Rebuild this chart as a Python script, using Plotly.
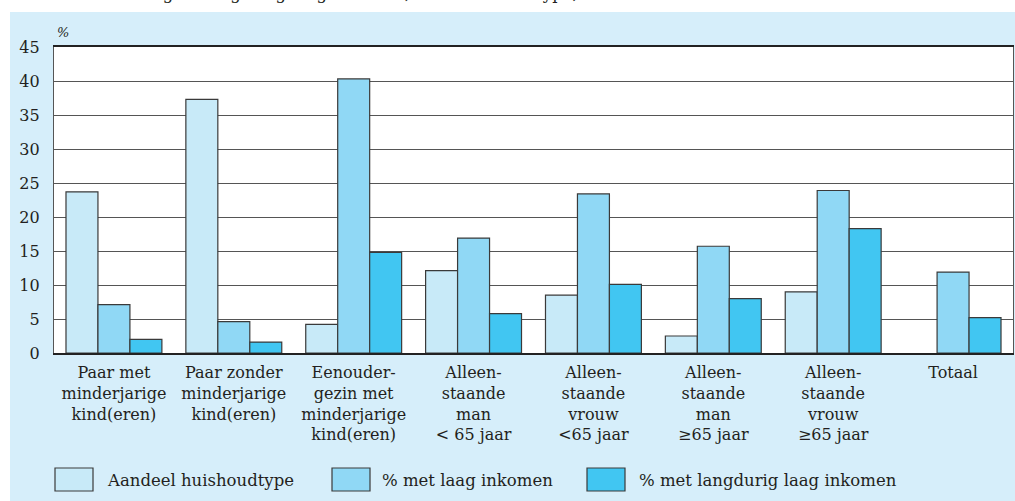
import plotly.graph_objects as go

categories = ["Paar met kind", "Paar zonder kind", "Eenouder", "Man <65", "Vrouw <65",
              "Man >=65", "Vrouw >=65", "Totaal"]
tick_labels = [
    "Paar met<br>minderjarige<br>kind(eren)",
    "Paar zonder<br>minderjarige<br>kind(eren)",
    "Eenouder-<br>gezin met<br>minderjarige<br>kind(eren)",
    "Alleen-<br>staande<br>man<br>&lt; 65 jaar",
    "Alleen-<br>staande<br>vrouw<br>&lt;65 jaar",
    "Alleen-<br>staande<br>man<br>≥65 jaar",
    "Alleen-<br>staande<br>vrouw<br>≥65 jaar",
    "Totaal",
]
aandeel = [23.7, 37.3, 4.2, 12.1, 8.5, 2.5, 9.0, None]
laag = [7.1, 4.6, 40.3, 16.9, 23.4, 15.7, 23.9, 11.9]
langdurig = [2.0, 1.6, 14.8, 5.8, 10.1, 8.0, 18.3, 5.2]
series_names = ["Aandeel huishoudtype", "% met laag inkomen", "% met langdurig laag inkomen"]
y_ticks = [0, 5, 10, 15, 20, 25, 30, 35, 40, 45]

colors = ["#C8EAF8", "#90D8F5", "#41C6F2"]
panel = "#D6EEFA"
txt = "#231F20"
FONT = "DejaVu Serif"

W, H = 1015, 501
L, R = 54, 1013
T, B = 47, 353


def px(x):
    return (x - L) / (R - L)


def py(y):
    return (B - y) / (B - T)


fig = go.Figure()
for name, vals, col in zip(series_names, [aandeel, laag, langdurig], colors):
    fig.add_trace(go.Bar(x=categories, y=vals, name=name, marker=dict(color=col, line=dict(color="#3a3a3a", width=1.2)),
                         showlegend=False))

shapes = [
    # white strips around the blue panel
    dict(type="rect", xref="paper", yref="paper", x0=px(0), x1=px(W), y0=py(12), y1=py(-2),
         fillcolor="white", line=dict(width=0), layer="below"),
    dict(type="rect", xref="paper", yref="paper", x0=px(-2), x1=px(10), y0=py(H + 2), y1=py(-2),
         fillcolor="white", line=dict(width=0), layer="below"),
]
annotations = [
    dict(text="Laag en langdurig laag inkomen, naar huishoudtype, 2000", xref="paper", yref="paper",
         x=px(130), y=1, xanchor="left", yanchor="bottom", yshift=T - 5, showarrow=False,
         font=dict(family=FONT, size=16.6, color=txt)),
    dict(text="%", xref="paper", yref="paper", x=px(55), y=py(33), xanchor="left", yanchor="middle",
         showarrow=False, font=dict(family=FONT, size=13, color=txt, style="italic")),
]
leg_boxes = [55, 332, 587]
leg_text = [105, 380, 637]
for i in range(3):
    shapes.append(dict(type="rect", xref="paper", yref="paper", x0=px(leg_boxes[i]), x1=px(leg_boxes[i] + 38),
                       y0=py(491), y1=py(468), fillcolor=colors[i], line=dict(color="#3a3a3a", width=1.2)))
    annotations.append(dict(text=series_names[i], xref="paper", yref="paper", x=px(leg_text[i]), y=py(480),
                            xanchor="left", yanchor="middle", showarrow=False,
                            font=dict(family=FONT, size=16.5, color=txt)))

fig.update_layout(
    width=W, height=H,
    margin=dict(l=L, r=W - R, t=T, b=H - B, pad=0),
    paper_bgcolor=panel, plot_bgcolor="white",
    barmode="group", bargap=0.2, bargroupgap=0,
    font=dict(family=FONT, size=16, color=txt),
    shapes=shapes, annotations=annotations,
    xaxis=dict(tickvals=categories, ticktext=tick_labels, showgrid=False, ticks="", showline=True,
               linecolor="#222", linewidth=1.5, mirror=True, ticklabelstandoff=4,
               tickfont=dict(family=FONT, size=16, color=txt), fixedrange=True),
    yaxis=dict(range=[0, 45], tickvals=y_ticks, showgrid=True, gridcolor="#555", gridwidth=1.2,
               showline=True, linecolor="#555", linewidth=1.2, mirror=True, ticks="",
               ticklabelstandoff=10, zeroline=False,
               tickfont=dict(family=FONT, size=16, color=txt), fixedrange=True),
)

fig.write_html("out.html", config={"displayModeBar": False},
               post_script="document.body.style.margin='0';document.body.style.overflow='hidden';")
